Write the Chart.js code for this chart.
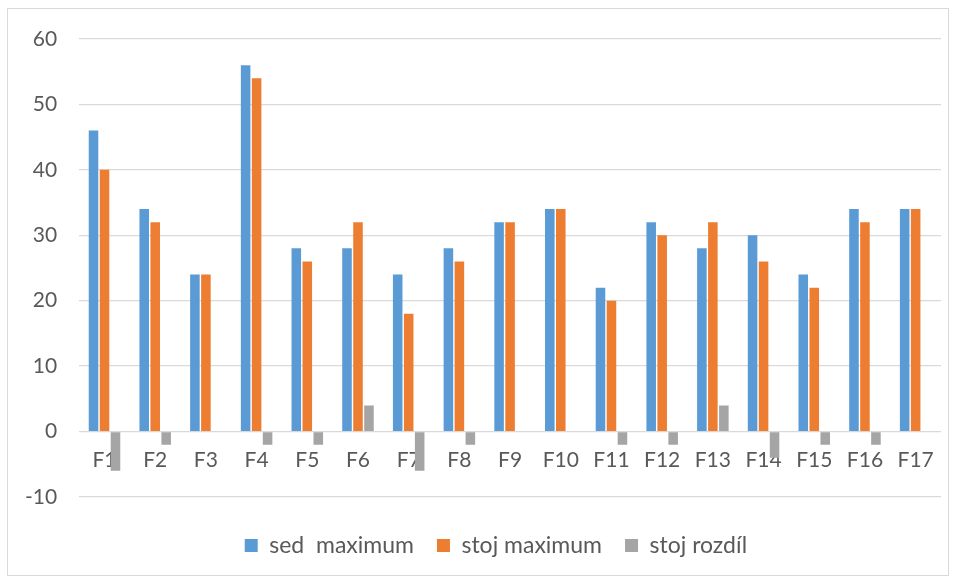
<!DOCTYPE html>
<html lang="cs">
<head>
<meta charset="UTF-8">
<title>sed / stoj maximum</title>
<script src="https://cdn.jsdelivr.net/npm/chart.js"></script>
<style>
  body { margin: 0; background: #fff; }
  .frame {
    position: absolute;
    left: 7px; top: 8px;
    width: 940px; height: 566px;
    border: 1px solid #d9d9d9;
    background: #fff;
  }
  canvas { display: block; }
</style>
</head>
<body>
<div class="frame">
  <canvas id="chart" width="940" height="566"></canvas>
</div>
<script>
  // data
  const categories = ["F1", "F2", "F3", "F4", "F5", "F6", "F7", "F8", "F9", "F10", "F11", "F12", "F13", "F14", "F15", "F16", "F17"];
  const sedMaximum  = [46, 34, 24, 56, 28, 28, 24, 28, 32, 34, 22, 32, 28, 30, 24, 34, 34];
  const stojMaximum = [40, 32, 24, 54, 26, 32, 18, 26, 32, 34, 20, 30, 32, 26, 22, 32, 34];
  const stojRozdil  = [-6, -2, 0, -2, -2, 4, -6, -2, 0, 0, -2, -2, 4, -4, -2, -2, 0];
  const yTicks = [-10, 0, 10, 20, 30, 40, 50, 60];

  const textColor = "#595959";
  const gridColor = "#d9d9d9";
  const fontFamily = "Lato, 'Open Sans', sans-serif";

  // nudge the legend a bit to the right, like in the original
  const legendShift = {
    id: "legendShift",
    afterLayout(chart) {
      chart.legend.left += 24;
      chart.legend.right += 24;
    }
  };

  new Chart(document.getElementById("chart"), {
    type: "bar",
    data: {
      labels: categories,
      datasets: [
        { label: "sed  maximum", data: sedMaximum, backgroundColor: "#5b9bd5" },
        { label: "stoj maximum", data: stojMaximum, backgroundColor: "#ed7d31" },
        { label: "stoj rozdíl", data: stojRozdil, backgroundColor: "#a5a5a5" }
      ]
    },
    plugins: [legendShift],
    options: {
      responsive: false,
      animation: false,
      datasets: {
        bar: { categoryPercentage: 0.65, barPercentage: 0.87 }
      },
      layout: { padding: { left: -5, right: 7, top: 10, bottom: 8 } },
      plugins: {
        tooltip: { enabled: false },
        legend: {
          position: "bottom",
          // empty title only used as a spacer above the legend items
          title: { display: true, text: "", padding: 1, font: { size: 10 } },
          labels: {
            color: textColor,
            font: { family: fontFamily, size: 23 },
            boxWidth: 13,
            boxHeight: 13,
            padding: 23
          }
        }
      },
      scales: {
        x: {
          position: { y: 0 },
          grid: { display: false },
          border: { display: false },
          ticks: {
            color: textColor,
            font: { family: fontFamily, size: 21 },
            padding: 8,
            maxRotation: 0
          }
        },
        y: {
          min: -10,
          max: 60,
          afterBuildTicks: axis => { axis.ticks = yTicks.map(v => ({ value: v })); },
          // tick padding is horizontal here, keep it out of the top margin
          afterFit: scale => { scale.paddingTop = 30; },
          grid: { color: gridColor, lineWidth: 1.3, drawTicks: false },
          border: { display: false },
          ticks: {
            color: textColor,
            font: { family: fontFamily, size: 21 },
            padding: 22
          }
        }
      }
    }
  });
</script>
</body>
</html>
